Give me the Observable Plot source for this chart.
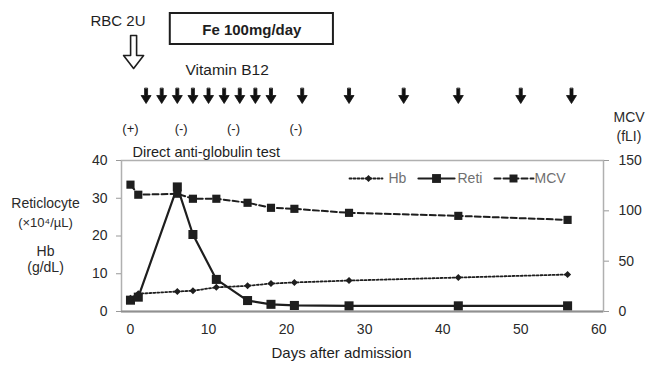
<!DOCTYPE html>
<html><head><meta charset="utf-8">
<script src="https://cdn.jsdelivr.net/npm/d3@7"></script>
<script src="https://cdn.jsdelivr.net/npm/@observablehq/plot@0.6"></script>
<style>body{margin:0;background:#fff}</style>
</head><body><div id="chart"></div>
<script>
// ---- data ----
const days = [0, 1, 6, 8, 11, 15, 18, 21, 28, 42, 56];
const hb   = [3.5, 4.7, 5.3, 5.5, 6.4, 6.8, 7.4, 7.7, 8.2, 9.0, 9.8];
const reti = [3.0, 3.8, 33.0, 20.4, 8.5, 2.9, 1.9, 1.6, 1.5, 1.5, 1.5];
const mcv  = [126, 116, 117, 112, 112, 108, 103, 102, 98, 95, 91];
const seriesNames = ["Hb", "Reti", "MCV"];
const xTicks = [0, 10, 20, 30, 40, 50, 60];
const yLeftTicks = [0, 10, 20, 30, 40];
const yRightTicks = [0, 50, 100, 150];
const b12Days = [2, 4, 6, 8, 10, 12, 14, 16, 18, 22, 28, 35, 42, 50, 56.5];
const datDays = [0, 6.5, 13.2, 21.2];
const datResults = ["(+)", "(-)", "(-)", "(-)"];
const rbcDay = [0.4];
const feDays = [5.1, 26];

const leftMax = 40, rightMax = 150;
const toLeft = v => v * leftMax / rightMax;

const hbData = days.map((d, i) => ({day: d, v: hb[i]}));
const retiData = days.map((d, i) => ({day: d, v: reti[i]}));
const mcvData = days.map((d, i) => ({day: d, v: toLeft(mcv[i])}));

const font = "'Liberation Sans', Arial, sans-serif";
const ink = "#1e1e1e";
const txt = "#2a2a2a";

const arrowShape = (shaftW, headW, headL) => ({
  draw(context, l) {
    context.moveTo(-shaftW / 2, 0);
    context.lineTo(-shaftW / 2, -(l - headL));
    context.lineTo(-headW / 2, -(l - headL));
    context.lineTo(0, -l);
    context.lineTo(headW / 2, -(l - headL));
    context.lineTo(shaftW / 2, -(l - headL));
    context.lineTo(shaftW / 2, 0);
    context.closePath();
  }
});
const segShape = {draw(context, l) { context.moveTo(0, 0); context.lineTo(0, -l); }};

// legend layout (offsets from frame top-left)
const legendStyle = [
  {lx: 228, len: 33, mx: 247, tx: 267, dash: "2,2", sw: 1.8, sym: "square", r: 2.8, rot: 45},
  {lx: 297, len: 36, mx: 315, tx: 336, dash: null, sw: 2.2, sym: "square", r: 5, rot: 0},
  {lx: 373, len: 39, mx: 392, tx: 413, dash: "6,3", sw: 2, sym: "square", r: 4.5, rot: 0}
];
const legendMarks = seriesNames.flatMap((name, i) => {
  const s = legendStyle[i];
  return [
    Plot.vector([name], {frameAnchor: "top-left", dx: s.lx, dy: 18, length: s.len, rotate: 90, anchor: "start",
      shape: segShape, stroke: ink, strokeWidth: s.sw, strokeDasharray: s.dash}),
    Plot.dot([name], {frameAnchor: "top-left", dx: s.mx, dy: 18, symbol: s.sym, r: s.r, rotate: s.rot, fill: ink}),
    Plot.text([name], {frameAnchor: "top-left", dx: s.tx, dy: 18, text: d => d, textAnchor: "start", lineAnchor: "middle",
      fontSize: 14, fill: "#707070"})
  ];
});

const T = (s, o) => Plot.text([s], {text: d => d, lineAnchor: "middle", fill: txt, ...o});

const chart = Plot.plot({
  width: 646, height: 365,
  marginLeft: 121, marginRight: 43, marginTop: 160, marginBottom: 54,
  style: {fontFamily: font, background: "#fff"},
  x: {domain: [-1.15, 60.6], axis: null},
  y: {domain: [0, leftMax], axis: null},
  marks: [
    Plot.frame({stroke: "#b0b0b0", strokeWidth: 1.5}),
    Plot.ruleY([0], {stroke: "#909090", strokeWidth: 2}),
    // series
    Plot.line(mcvData, {x: "day", y: "v", stroke: ink, strokeWidth: 2, strokeDasharray: "6,3"}),
    Plot.line(hbData, {x: "day", y: "v", stroke: ink, strokeWidth: 1.8, strokeDasharray: "2,2"}),
    Plot.line(retiData, {x: "day", y: "v", stroke: ink, strokeWidth: 2.2}),
    Plot.dot(mcvData, {x: "day", y: "v", symbol: "square", r: 4.6, fill: ink}),
    Plot.dot(retiData, {x: "day", y: "v", symbol: "square", r: 5.1, fill: ink}),
    Plot.dot(hbData, {x: "day", y: "v", symbol: "square", r: 2.8, rotate: 45, fill: ink}),
    ...legendMarks,
    // axes
    Plot.axisX({ticks: xTicks, label: null, tickSize: 0, tickPadding: 13, fontSize: 14, fill: txt}),
    Plot.axisY({ticks: yLeftTicks, label: null, tickSize: 5, tickPadding: 9, fontSize: 14, fill: txt, stroke: "#999"}),
    Plot.axisY({anchor: "right", label: null, ticks: yRightTicks.map(toLeft),
      tickFormat: v => String(Math.round(v * rightMax / leftMax)),
      tickSize: 5, tickPadding: 10, fontSize: 14, fill: txt, stroke: "#999"}),
    T("Days after admission", {frameAnchor: "bottom", dx: -21, dy: 42, fontSize: 15, fill: ink}),
    // left axis titles
    T("Reticlocyte", {frameAnchor: "left", textAnchor: "middle", dx: -76, dy: -32, fontSize: 14}),
    T("(×10⁴/µL)", {frameAnchor: "left", textAnchor: "middle", dx: -76, dy: -13, fontSize: 13}),
    T("Hb", {frameAnchor: "left", textAnchor: "middle", dx: -76, dy: 16, fontSize: 14}),
    T("(g/dL)", {frameAnchor: "left", textAnchor: "middle", dx: -76, dy: 32, fontSize: 14}),
    // right axis title
    T("MCV", {frameAnchor: "top-right", textAnchor: "start", dx: 10, dy: -43, fontSize: 14}),
    T("(fLI)", {frameAnchor: "top-right", textAnchor: "start", dx: 13, dy: -24, fontSize: 14}),
    // annotations: direct antiglobulin test
    T("Direct anti-globulin test", {frameAnchor: "top-left", textAnchor: "start", dx: 11, dy: -8, fontSize: 14.5, fill: ink}),
    Plot.text(datDays, {x: d => d, frameAnchor: "top", lineAnchor: "middle", dy: -32,
      text: (d, i) => datResults[i], fontSize: 13, fill: ink}),
    // vitamin B12
    Plot.vector(b12Days, {x: d => d, frameAnchor: "top", dy: -72, length: 15, rotate: 180, anchor: "start",
      shape: arrowShape(3, 10, 8), fill: "#111", stroke: "#111", strokeWidth: 0.8}),
    T("Vitamin B12", {frameAnchor: "top-left", textAnchor: "start", dx: 64, dy: -90, fontSize: 15.5, fill: ink}),
    // RBC transfusion
    Plot.vector(rbcDay, {x: d => d, frameAnchor: "top", dy: -125, length: 33, rotate: 180, anchor: "start",
      shape: arrowShape(6, 20, 13), fill: "#fff", stroke: ink, strokeWidth: 1.6}),
    T("RBC 2U", {frameAnchor: "top-left", textAnchor: "start", dx: -31, dy: -139, fontSize: 15, fill: ink}),
    // Fe
    Plot.rect([feDays], {x1: d => d[0], x2: d => d[1], insetTop: -147, insetBottom: 267,
      fill: "none", stroke: ink, strokeWidth: 2}),
    Plot.text([feDays], {x: d => (d[0] + d[1]) / 2, frameAnchor: "top", lineAnchor: "middle", dy: -130,
      text: () => "Fe 100mg/day", fontSize: 15, fontWeight: "bold", fill: ink})
  ]
});
document.getElementById("chart").append(chart);
</script>
</body></html>
